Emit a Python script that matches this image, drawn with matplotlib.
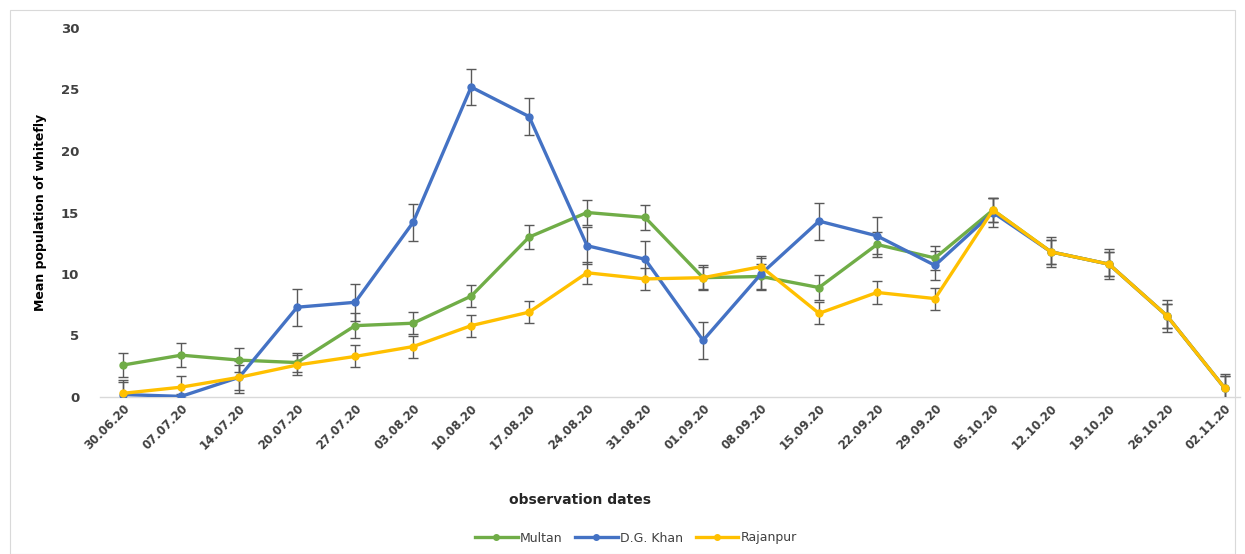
import matplotlib
matplotlib.use("Agg")
import matplotlib.pyplot as plt
from matplotlib.patches import Rectangle
from matplotlib.lines import Line2D

dates = ["30.06.20", "07.07.20", "14.07.20", "20.07.20", "27.07.20", "03.08.20",
         "10.08.20", "17.08.20", "24.08.20", "31.08.20", "01.09.20", "08.09.20",
         "15.09.20", "22.09.20", "29.09.20", "05.10.20", "12.10.20", "19.10.20",
         "26.10.20", "02.11.20"]

multan = [2.6, 3.4, 3.0, 2.8, 5.8, 6.0, 8.2, 13.0, 15.0, 14.6,
          9.7, 9.8, 8.9, 12.4, 11.3, 15.2, 11.8, 10.8, 6.6, 0.7]
multan_err = [1.0, 1.0, 1.0, 0.8, 1.0, 0.9, 0.9, 1.0, 1.0, 1.0,
              1.0, 1.0, 1.0, 1.0, 1.0, 1.0, 1.0, 1.0, 1.0, 1.0]

dgkhan = [0.2, 0.05, 1.6, 7.3, 7.7, 14.2, 25.2, 22.8, 12.3, 11.2,
          4.6, 10.0, 14.3, 13.1, 10.7, 15.0, 11.8, 10.8, 6.6, 0.7]
dgkhan_err = [1.2, 0.2, 1.3, 1.5, 1.5, 1.5, 1.5, 1.5, 1.5, 1.5,
              1.5, 1.3, 1.5, 1.5, 1.2, 1.2, 1.2, 1.2, 1.3, 1.2]

rajanpur = [0.3, 0.8, 1.6, 2.6, 3.3, 4.1, 5.8, 6.9, 10.1, 9.6,
            9.7, 10.6, 6.8, 8.5, 8.0, 15.2, 11.8, 10.8, 6.6, 0.7]
rajanpur_err = [0.9, 0.9, 1.0, 0.8, 0.9, 0.9, 0.9, 0.9, 0.9, 0.9,
                0.9, 0.9, 0.9, 0.9, 0.9, 1.0, 1.0, 1.0, 1.0, 1.0]

series = [
    ("Multan", multan, multan_err, "#70AD47"),
    ("D.G. Khan", dgkhan, dgkhan_err, "#4472C4"),
    ("Rajanpur", rajanpur, rajanpur_err, "#FFC000"),
]

fig = plt.figure(figsize=(12.45, 5.54), dpi=100)
fig.patches.append(Rectangle((10 / 1245, 0.0), 1 - 20 / 1245, 1 - 10 / 554,
                             transform=fig.transFigure, fill=False,
                             edgecolor="#D9D9D9", linewidth=0.8))

ax = fig.add_axes([100 / 1245, 1 - 397 / 554, 1140 / 1245, 369 / 554])
x = list(range(len(dates)))

handles = []
for name, vals, errs, col in series:
    ax.errorbar(x, vals, yerr=errs, color=col, linewidth=2.4, marker="o",
                markersize=5, ecolor="#595959", elinewidth=1.0, capsize=3.5,
                capthick=1.0, zorder=3)
    handles.append(Line2D([], [], color=col, linewidth=2.4, marker="o",
                          markersize=4, label=name))

ax.set_xlim(-0.4, 19.26)
ax.set_ylim(0, 30)
ax.set_yticks([0, 5, 10, 15, 20, 25, 30])
for s in ["top", "right", "left"]:
    ax.spines[s].set_visible(False)
ax.spines["bottom"].set_color("#D9D9D9")
ax.spines["bottom"].set_linewidth(1.0)
ax.tick_params(axis="both", length=0, colors="#404040")
ax.tick_params(axis="y", pad=15)
ax.set_xticks(x)
ax.set_xticklabels(dates, rotation=45, ha="right", rotation_mode="anchor",
                   fontsize=8.5, fontweight="bold", color="#404040")
for lbl in ax.get_yticklabels():
    lbl.set_fontweight("bold")
    lbl.set_fontsize(9.5)

ax.set_ylabel("Mean population of whitefly", fontsize=9, fontweight="bold",
              color="black", labelpad=10)
fig.text(580 / 1245, 1 - 500 / 554, "observation dates", ha="center",
         va="center", fontsize=10, fontweight="bold", color="#262626")

fig.legend(handles=handles, loc="center",
           bbox_to_anchor=(636 / 1245, 1 - 538 / 554), ncol=3,
           frameon=False, fontsize=9, handlelength=3.4, columnspacing=1.0,
           handletextpad=0.2, labelcolor="#404040")

fig.savefig("out.png", dpi=100)
